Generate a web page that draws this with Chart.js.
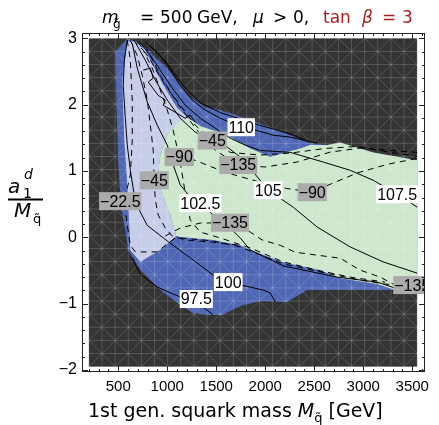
<!DOCTYPE html>
<html>
<head>
<meta charset="utf-8">
<script src="https://cdn.jsdelivr.net/npm/chart.js@4.4.0/dist/chart.umd.min.js"></script>
<style>
  html, body { margin: 0; padding: 0; background: #fff; }
</style>
</head>
<body>
<canvas id="c" width="439" height="425"></canvas>
<script>
// axes
const xTicks = [500, 1000, 1500, 2000, 2500, 3000, 3500];
const yTicks = [-2, -1, 0, 1, 2, 3];

// regions [squark mass, a1d/Mq]
const darkRegion = [[200, -1.95], [3550, -1.95], [3550, 3.0], [200, 3.0]];
const blueRegion = [[592, 2.99], [653, 2.97], [796, 2.85], [857, 2.74], [1000, 2.55], [1133, 2.29], [1235, 2.11], [1388, 1.96], [1541, 1.92], [1918, 1.73], [2255, 1.54], [2459, 1.42], [2633, 1.39], [2765, 1.43], [3102, 1.28], [3550, 1.16], [3550, -0.795], [2428, -0.795], [2224, -0.975], [1949, -0.96], [1745, -1.035], [1561, -1.17], [1439, -1.17], [1266, -1.14], [1133, -1.02], [929, -0.795], [725, -0.49], [602, -0.19], [572, 0.11], [531, 0.44], [500, 1.12], [480, 2.11], [470, 2.79]];
const lightRegion = [[592, 2.95], [674, 2.95], [776, 2.82], [878, 2.52], [1000, 2.19], [1102, 1.95], [1214, 1.80], [1133, 1.74], [1010, 1.57], [929, 1.24], [898, 0.86], [949, 0.64], [1031, 0.335], [1092, 0.02], [929, -0.19], [725, -0.37], [623, -0.19], [602, 0.56], [562, 1.46], [541, 2.37]];
const greenRegion = [[1112, 1.74], [1214, 1.80], [1337, 1.68], [1612, 1.54], [1847, 1.34], [2051, 1.21], [2204, 1.28], [2357, 1.34], [2459, 1.39], [2633, 1.39], [2765, 1.43], [3102, 1.28], [3550, 1.16], [3550, -0.795], [3326, -0.795], [3142, -0.705], [2765, -0.615], [2561, -0.495], [2183, -0.375], [1847, -0.19], [1745, -0.12], [1469, -0.04], [1133, 0.005], [1092, 0.02], [1031, 0.335], [949, 0.64], [898, 0.86], [929, 1.24], [1010, 1.57]];

// solid contours
const c97_5 = [[643, -0.31], [725, -0.555], [898, -0.75], [1133, -0.90], [1337, -1.02], [1469, -1.17]];
const c100 = [[592, 2.97], [562, 2.67], [551, 2.29], [572, 1.795], [592, 1.39], [623, 1.01], [663, 0.64], [704, 0.44], [796, 0.18], [1000, -0.055], [1235, -0.31], [1469, -0.57], [1622, -0.675], [1847, -0.75], [1979, -0.795], [2051, -0.84], [2102, -0.975]];
const c102_5 = [[643, 2.925], [694, 2.55], [796, 2.04], [898, 1.69], [1000, 1.39], [1061, 1.09], [1133, 0.79], [1235, 0.605], [1337, 0.515], [1469, 0.335], [1643, 0.14], [1745, -0.01], [1847, -0.19], [2183, -0.43], [2734, -0.60], [3142, -0.675], [3326, -0.765]];
const c105 = [[674, 2.94], [776, 2.67], [878, 2.37], [1000, 2.07], [1133, 1.795], [1286, 1.585], [1459, 1.46], [1612, 1.36], [1745, 1.21], [1847, 1.04], [2030, 0.71], [2285, 0.455], [2530, 0.155], [2867, -0.145], [3203, -0.37], [3550, -0.54]];
const c107_5 = [[725, 2.94], [827, 2.74], [929, 2.52], [1051, 2.25], [1184, 1.99], [1337, 1.795], [1490, 1.645], [1643, 1.495], [1796, 1.39], [1949, 1.31], [2255, 1.28], [2592, 1.135], [2867, 1.01], [3102, 0.86], [3346, 0.65], [3550, 0.455]];
const c110 = [[776, 2.94], [878, 2.82], [1000, 2.595], [1133, 2.29], [1255, 2.07], [1388, 1.92], [1541, 1.795], [1755, 1.66], [1918, 1.61], [2081, 1.54], [2255, 1.51], [2530, 1.42]];
const c112_5 = [[827, 2.88], [980, 2.66], [1184, 2.25], [1337, 2.03], [1541, 1.88], [1918, 1.70], [2255, 1.56], [2400, 1.47]];
const cJag = [[755, 2.52], [827, 2.55], [857, 2.40], [806, 2.34], [908, 2.14], [980, 2.07], [959, 1.99], [1082, 1.885], [1184, 1.795], [1235, 1.84], [1286, 1.735]];

// dashed contours
const dm22_5 = [[592, 2.97], [623, 2.67], [643, 2.07], [643, 1.46], [623, 0.94], [562, 0.545], [592, 0.18], [623, -0.12], [674, -0.22], [898, -0.22], [980, -0.12], [1082, -0.01]];
const dm45a = [[623, 2.97], [694, 2.74], [745, 2.44], [796, 2.07], [827, 1.69], [857, 1.31], [867, 0.86], [878, 0.56], [908, 0.335], [980, 0.14], [1051, 0.02], [1184, -0.04], [1439, -0.07], [1745, -0.12]];
const dm90a = [[653, 2.97], [755, 2.82], [847, 2.55], [929, 2.22], [1000, 1.92], [1061, 1.61], [1122, 1.21], [1163, 0.86], [1194, 0.56], [1235, 0.26], [1337, 0.08], [1541, -0.01], [1847, -0.16], [2183, -0.37], [2561, -0.505], [2867, -0.60], [3224, -0.675]];
const dm45b = [[704, 2.94], [827, 2.67], [980, 2.29], [1133, 1.99], [1286, 1.69], [1459, 1.46], [1643, 1.28], [1949, 1.24], [2255, 1.27], [2612, 1.34], [2939, 1.37], [3275, 1.28], [3550, 1.22]];
const dm135a = [[776, 2.89], [929, 2.44], [1082, 2.07], [1286, 1.645], [1490, 1.31], [1724, 1.09], [1999, 1.06], [2326, 1.135], [2663, 1.285], [2969, 1.345], [3275, 1.31], [3550, 1.28]];
const dm90b = [[1122, 1.21], [1286, 1.16], [1592, 0.98], [1949, 0.83], [2204, 0.74], [2479, 0.68], [2663, 0.80], [2939, 0.97], [3245, 1.10], [3550, 1.19]];
const dm135b = [[980, 0.02], [1133, 0.14], [1337, 0.215], [1640, 0.22], [1847, 0.08], [1969, -0.04], [2153, -0.12], [2306, -0.225], [2459, -0.255], [2765, -0.315], [2969, -0.495], [3173, -0.60], [3326, -0.72]];
const dm135c = [[1133, -0.01], [1469, -0.055], [1745, -0.145], [2183, -0.40], [2561, -0.52], [2969, -0.645], [3224, -0.705], [3500, -0.72]];

// contour labels
const labelText = ['97.5', '100', '102.5', '105', '107.5', '110', '−22.5', '−45', '−90', '−45', '−135', '−90', '−135', '−135'];
const labelX = [1296, 1622, 1337, 2030, 3346, 1755, 521, 867, 1122, 1459, 1724, 2479, 1640, 3500];
const labelY = [-0.93, -0.675, 0.515, 0.71, 0.65, 1.66, 0.545, 0.86, 1.21, 1.46, 1.09, 0.68, 0.22, -0.72];
const labelDashed = [false, false, false, false, false, false, true, true, true, true, true, true, true, true];

const pts = a => a.map(p => ({ x: p[0], y: p[1] }));

function region(data, color, order, id) {
  return { id: id, data: pts(data), backgroundColor: color, borderColor: 'rgba(0,0,0,0)', borderWidth: 0,
    fill: 'shape', pointRadius: 0, tension: 0, order: order };
}
function contour(data, dashed) {
  return { data: pts(data), borderColor: '#000', borderWidth: 1, borderDash: dashed ? [6, 5] : [],
    fill: false, pointRadius: 0, tension: 0, order: 1 };
}

const fmt = v => (v < 0 ? '−' + Math.abs(v) : String(v));

// mesh in the plot region
const meshPlugin = {
  id: 'mesh',
  afterDatasetDraw(chart, args) {
    if (chart.data.datasets[args.index].id !== 'green') return;
    const { ctx, scales: { x, y }, chartArea: a } = chart;
    const nx = 25, ny = 25;
    const x0 = darkRegion[0][0], x1 = darkRegion[1][0], y0 = darkRegion[0][1], y1 = darkRegion[2][1];
    const X = i => x.getPixelForValue(x0 + (x1 - x0) * i / nx);
    const Y = j => y.getPixelForValue(y0 + (y1 - y0) * j / ny);
    ctx.save();
    ctx.beginPath(); ctx.rect(a.left, a.top, a.right - a.left, a.bottom - a.top); ctx.clip();
    ctx.strokeStyle = 'rgba(255,255,255,0.17)';
    ctx.lineWidth = 1;
    ctx.beginPath();
    for (let i = 0; i <= nx; i++) { ctx.moveTo(X(i), Y(0)); ctx.lineTo(X(i), Y(ny)); }
    for (let j = 0; j <= ny; j++) { ctx.moveTo(X(0), Y(j)); ctx.lineTo(X(nx), Y(j)); }
    for (let i = 0; i < nx; i++) {
      for (let j = 0; j < ny; j++) {
        if ((i + j) % 2 === 0) { ctx.moveTo(X(i), Y(j)); ctx.lineTo(X(i + 1), Y(j + 1)); }
        else { ctx.moveTo(X(i + 1), Y(j)); ctx.lineTo(X(i), Y(j + 1)); }
      }
    }
    ctx.stroke();
    ctx.restore();
  }
};

// labels on contours
const labelPlugin = {
  id: 'clabels',
  afterDatasetsDraw(chart) {
    const { ctx, scales: { x, y }, chartArea: a } = chart;
    ctx.save();
    ctx.beginPath(); ctx.rect(a.left, a.top, a.right - a.left, a.bottom - a.top); ctx.clip();
    ctx.font = '16px "Liberation Sans", Arial, sans-serif';
    ctx.textAlign = 'center';
    ctx.textBaseline = 'middle';
    labelText.forEach((t, i) => {
      const px = x.getPixelForValue(labelX[i]);
      const py = y.getPixelForValue(labelY[i]);
      const w = ctx.measureText(t).width + 2;
      ctx.fillStyle = labelDashed[i] ? '#ababab' : '#fff';
      ctx.fillRect(px - w / 2, py - 9, w, 18);
      ctx.fillStyle = '#000';
      ctx.fillText(t, px, py + 1);
    });
    ctx.restore();
  }
};

// frame, inner ticks and texts
const framePlugin = {
  id: 'frame',
  afterDraw(chart) {
    const { ctx, scales: { x, y }, chartArea: a } = chart;
    ctx.save();
    ctx.strokeStyle = '#222';
    ctx.lineWidth = 1;
    ctx.strokeRect(a.left + 0.5, a.top + 0.5, a.right - a.left - 1, a.bottom - a.top - 1);
    ctx.beginPath();
    for (let v = 200; v <= 3600; v += 100) {
      const L = v % 500 === 0 ? 6 : 3;
      const p = Math.round(x.getPixelForValue(v)) + 0.5;
      ctx.moveTo(p, a.bottom); ctx.lineTo(p, a.bottom - L);
      ctx.moveTo(p, a.top); ctx.lineTo(p, a.top + L);
    }
    for (let k = -10; k <= 15; k++) {
      const v = k / 5;
      const L = k % 5 === 0 ? 6 : 3;
      const p = Math.round(y.getPixelForValue(v)) + 0.5;
      ctx.moveTo(a.left, p); ctx.lineTo(a.left + L, p);
      ctx.moveTo(a.right, p); ctx.lineTo(a.right - L, p);
    }
    ctx.stroke();

    // title
    const red = '#a81f1f';
    const F = '"DejaVu Sans", sans-serif';
    const title = [
      ['m', 102, 'italic 17px ' + F, '#000', 0],
      ['g\u0303', 113, '12px ' + F, '#000', 5],
      ['=', 140, '17px ' + F, '#000', 0],
      ['500', 160, '17px ' + F, '#000', 0],
      ['GeV,', 197, '17px ' + F, '#000', 0],
      ['μ', 253, 'italic 17px ' + F, '#000', 0],
      ['>', 273, '17px ' + F, '#000', 0],
      ['0,', 293, '17px ' + F, '#000', 0],
      ['tan', 323, '17px ' + F, red, 0],
      ['β', 362, 'italic 17px ' + F, red, 0],
      ['=', 382, '17px ' + F, red, 0],
      ['3', 402, '17px ' + F, red, 0]
    ];
    ctx.textAlign = 'left';
    ctx.textBaseline = 'alphabetic';
    title.forEach(t => { ctx.font = t[2]; ctx.fillStyle = t[3]; ctx.fillText(t[0], t[1], 23 + t[4]); });

    // x axis title
    ctx.fillStyle = '#000';
    let cx = 88;
    const xt = [['1st gen. squark mass ', '19px ' + F, 0], ['M', 'italic 19px ' + F, 0], ['q\u0303', '13px ' + F, 5], [' [GeV]', '19px ' + F, 0]];
    xt.forEach(t => { ctx.font = t[1]; ctx.fillText(t[0], cx, 417 + t[2]); cx += ctx.measureText(t[0]).width; });

    // y axis title (fraction)
    ctx.font = 'italic 20px ' + F; ctx.fillText('a', 8, 193);
    ctx.font = 'italic 14px ' + F; ctx.fillText('d', 24, 179);
    ctx.font = '14px ' + F; ctx.fillText('1', 23, 198);
    ctx.fillRect(8, 198.5, 35, 2);
    ctx.font = 'italic 20px ' + F; ctx.fillText('M', 14, 217);
    ctx.font = '13px ' + F; ctx.fillText('q\u0303', 33, 223);
    ctx.restore();
  }
};

new Chart(document.getElementById('c'), {
  type: 'line',
  data: {
    datasets: [
      region(darkRegion, '#343434', 10, 'dark'),
      region(blueRegion, '#4f67b5', 9, 'blue'),
      region(lightRegion, '#c6cde9', 8, 'light'),
      region(greenRegion, '#cde6cc', 7, 'green'),
      contour(c97_5, false), contour(c100, false), contour(c102_5, false), contour(c105, false),
      contour(c107_5, false), contour(c110, false), contour(c112_5, false), contour(cJag, false),
      contour(dm22_5, true), contour(dm45a, true), contour(dm90a, true), contour(dm45b, true),
      contour(dm135a, true), contour(dm90b, true), contour(dm135b, true), contour(dm135c, true)
    ]
  },
  options: {
    responsive: false,
    animation: false,
    devicePixelRatio: 1,
    layout: { padding: { top: 33, right: 14, left: 0, bottom: 0 } },
    plugins: { legend: { display: false }, tooltip: { enabled: false }, title: { display: false } },
    scales: {
      x: {
        type: 'linear', min: 130, max: 3630,
        grid: { display: false, drawTicks: false }, border: { display: false },
        afterBuildTicks: s => { s.ticks = xTicks.map(v => ({ value: v })); },
        afterFit: s => { s.height = 53; },
        ticks: { font: { family: '"Liberation Sans", Arial, sans-serif', size: 15 }, color: '#000', padding: 6,
          maxRotation: 0, autoSkip: false, callback: v => fmt(v) }
      },
      y: {
        type: 'linear', min: -2.03, max: 3.08,
        grid: { display: false, drawTicks: false }, border: { display: false },
        afterBuildTicks: s => { s.ticks = yTicks.map(v => ({ value: v })); },
        afterFit: s => { s.width = 82; },
        ticks: { font: { family: '"Liberation Sans", Arial, sans-serif', size: 16 }, color: '#000', padding: 5,
          autoSkip: false, callback: v => fmt(v) }
      }
    }
  },
  plugins: [meshPlugin, labelPlugin, framePlugin]
});
</script>
</body>
</html>
